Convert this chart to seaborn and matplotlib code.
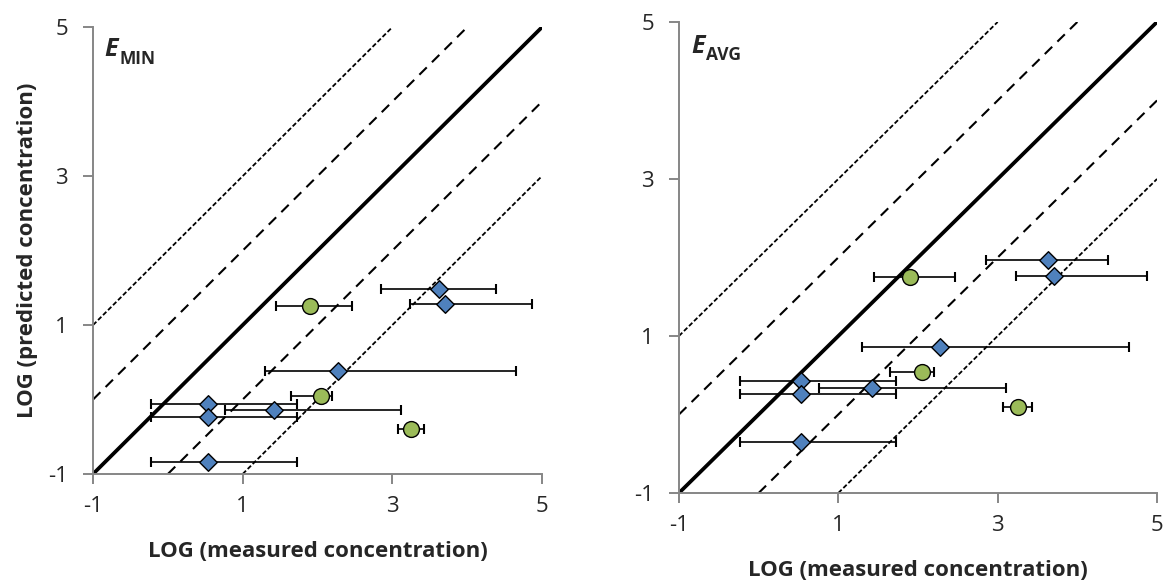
import numpy as np
import pandas as pd
import matplotlib
matplotlib.use("Agg")
import matplotlib.pyplot as plt
import seaborn as sns

# measured concentrations (log) with error-bar limits, shared by both panels
blue_x = [3.63, 3.71, 2.28, 0.53, 1.42, 0.53, 0.53]
blue_lo = [2.85, 3.23, 1.30, -0.23, 0.76, -0.23, -0.23]
blue_hi = [4.38, 4.87, 4.65, 1.73, 3.11, 1.73, 1.73]
green_x = [1.90, 2.05, 3.25]
green_lo = [1.45, 1.65, 3.07]
green_hi = [2.46, 2.20, 3.43]

# predicted concentrations (log)
emin_blue_y = [1.49, 1.28, 0.38, -0.06, -0.14, -0.23, -0.84]
emin_green_y = [1.26, 0.05, -0.39]
eavg_blue_y = [1.97, 1.77, 0.86, 0.43, 0.34, 0.26, -0.35]
eavg_green_y = [1.75, 0.54, 0.10]

panels = ["MIN", "AVG"]
ticks = [-1, 1, 3, 5]
line_offsets = [2, 1, 0, -1, -2]

sns.set_style("white")
plt.rcParams["font.family"] = ["Open Sans", "DejaVu Sans"]
plt.rcParams["axes.unicode_minus"] = False

fig = plt.figure(figsize=(11.66, 5.81), dpi=100)
ax1 = fig.add_axes([0.0798, 0.1842, 0.385, 0.769])
ax2 = fig.add_axes([0.5823, 0.1515, 0.410, 0.8107])

blue_col = "#4F81BD"
green_col = "#9BBB59"
gray = "#868686"


def draw_panel(ax, blue_y, green_y, name):
    # 1:1 line and factor lines
    for off in line_offsets:
        x0 = max(-1, -1 - off)
        x1 = min(5, 5 - off)
        d = pd.DataFrame({"x": [x0, x1], "y": [x0 + off, x1 + off]})
        if off == 0:
            sns.lineplot(data=d, x="x", y="y", ax=ax, color="black", lw=2.7, zorder=2)
        elif abs(off) == 1:
            sns.lineplot(data=d, x="x", y="y", ax=ax, color="black", lw=1.5,
                         zorder=2).lines[-1].set_dashes((5, 3.5))
        else:
            sns.lineplot(data=d, x="x", y="y", ax=ax, color="black", lw=1.3,
                         zorder=2).lines[-1].set_dashes((2.6, 1.3))

    bx = np.array(blue_x)
    gx = np.array(green_x)
    ax.errorbar(bx, blue_y, xerr=[bx - np.array(blue_lo), np.array(blue_hi) - bx],
                fmt="none", ecolor="black", elinewidth=1.2, capsize=3.6, capthick=1.5, zorder=3)
    ax.errorbar(gx, green_y, xerr=[gx - np.array(green_lo), np.array(green_hi) - gx],
                fmt="none", ecolor="black", elinewidth=1.2, capsize=3.6, capthick=1.5, zorder=3)

    sns.scatterplot(x=blue_x, y=blue_y, ax=ax, marker="D", s=80, color=blue_col,
                    edgecolor="black", linewidth=1.0, zorder=4)
    sns.scatterplot(x=green_x, y=green_y, ax=ax, marker="o", s=130, color=green_col,
                    edgecolor="black", linewidth=1.0, zorder=4)

    ax.set_xlim(-1, 5)
    ax.set_ylim(-1, 5)
    ax.set_xticks(ticks)
    ax.set_yticks(ticks)
    ax.tick_params(axis="both", direction="out", length=7, width=1.4, color=gray,
                   labelsize=16, left=True, bottom=True)
    ax.tick_params(axis="y", pad=11)
    ax.tick_params(axis="x", pad=9)
    for s in ["top", "right"]:
        ax.spines[s].set_visible(False)
    for s in ["left", "bottom"]:
        ax.spines[s].set_color(gray)
        ax.spines[s].set_linewidth(1.4)

    t = ax.text(0.025, 0.935, "E", transform=ax.transAxes, fontsize=18,
                fontweight="bold", fontstyle="italic", va="baseline", ha="left")
    ax.annotate(name, xy=(1, 0), xycoords=t, xytext=(1, -4), textcoords="offset points",
                fontsize=12.5, fontweight="bold", va="bottom", ha="left")
    ax.set_xlabel("LOG (measured concentration)", fontsize=16, fontweight="bold", labelpad=17)
    ax.set_ylabel("")


draw_panel(ax1, emin_blue_y, emin_green_y, panels[0])
draw_panel(ax2, eavg_blue_y, eavg_green_y, panels[1])
ax1.set_ylabel("LOG (predicted concentration)", fontsize=16, fontweight="bold", labelpad=7)

fig.savefig("out.png", dpi=100)
